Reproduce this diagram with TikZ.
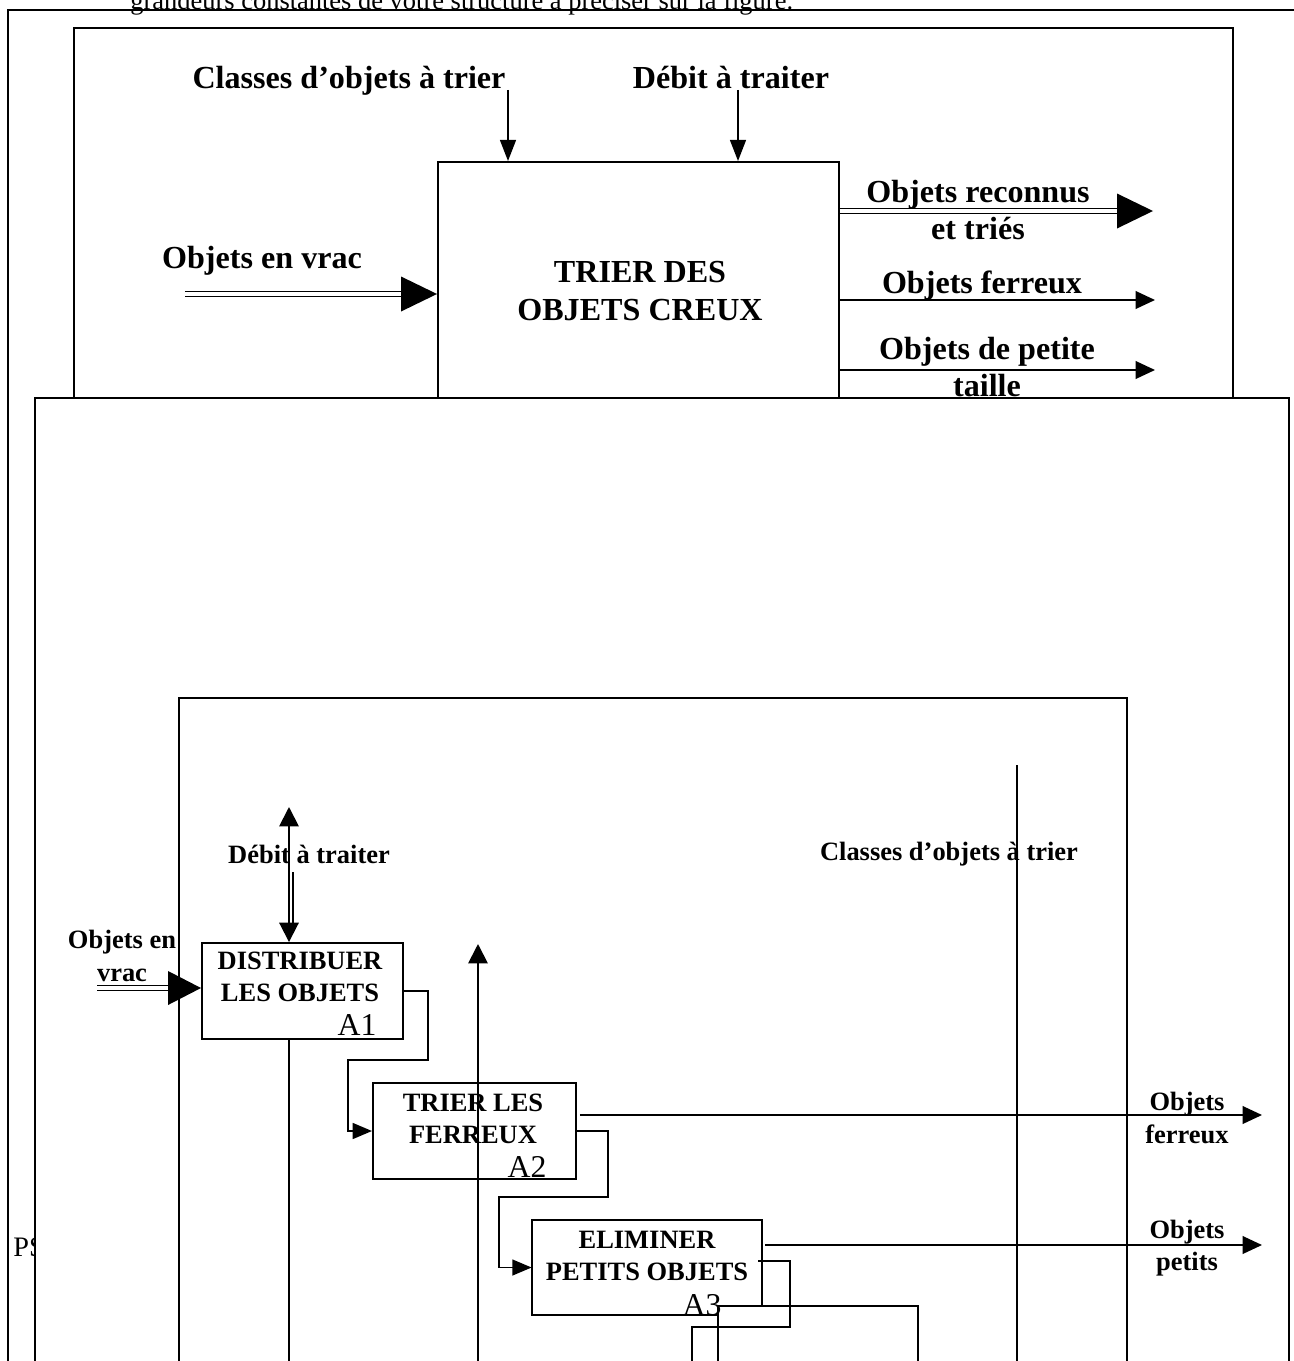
\documentclass[tikz,border=0pt]{standalone}
\usepackage{fontspec}
\setmainfont{Liberation Serif}
\usetikzlibrary{arrows.meta,fit,calc}
\begin{document}
\begin{tikzpicture}[x=0.5669pt,y=-0.5669pt,
  ln/.style={line width=1.1pt},
  bl/.style={font=\bfseries\fontsize{18.2}{21.5}\selectfont, align=center, inner sep=0pt},
  bs/.style={font=\bfseries\fontsize{15}{18.3}\selectfont, align=center, inner sep=0pt},
  rg/.style={font=\fontsize{18}{19}\selectfont, inner sep=0pt},
  fn/.style={draw, line width=1.1pt, inner sep=0pt},
  nofn/.style={inner sep=0pt},
  arr/.style={ln,-{Triangle[length=11pt,width=10pt]}},
  arrc/.style={ln,-{Triangle[length=12pt,width=9pt]}},
  arrs/.style={ln,-{Triangle[length=11pt,width=9pt]}},
  dbl/.style={double, line width=0.9pt, double distance=1.8pt}
]
\useasboundingbox (0,0) rectangle (1294,1361);

% header line of the page (cut off)
\node[font=\fontsize{15}{17}\selectfont, anchor=base west, inner sep=0pt] (hdr) at (130,10) {grandeurs constantes de votre structure à préciser sur la figure.};

% outer frame and A-0 frame
\draw[line width=1.1pt] (8,1400) -- (8,10) -- (1300,10);
\draw[line width=1.4pt] (74,28) rectangle (1233,1400);

% A-0 function box
\node[fn, fit={(438,162) (839,420)}] (a0) {};
\node[bl] (a0t) at (640,291) {TRIER DES\\OBJETS CREUX};

% controls
\node[bl, anchor=base] (cls) at (349,89) {Classes d’objets à trier};
\node[bl, anchor=base] (deb) at (731,89) {Débit à traiter};
\coordinate (c1) at (508,90);
\coordinate (c2) at (738,90);
\draw[arrc] (c1) -- (c1 |- a0.north);
\draw[arrc] (c2) -- (c2 |- a0.north);

% input
\node[bl, anchor=base] (inl) at (262,268) {Objets en vrac};
\coordinate (in0) at (185,294);
\draw[dbl] (in0) -- ($(a0.west |- in0)+(-36,0)$);
\fill (a0.west |- in0) -- ++(-36,-17.5) -- ++(0,35) -- cycle;

% outputs
\coordinate (o1) at (1153,211);
\draw[dbl] (a0.east |- o1) -- ($(o1)+(-36,0)$);
\fill (o1) -- ++(-36,-17.5) -- ++(0,35) -- cycle;
\node[bl] (o1l) at (978,210) {Objets reconnus\\et triés};

\coordinate (o2) at (1155,300);
\draw[arr] (a0.east |- o2) -- (o2);
\node[bl, anchor=base] (o2l) at (982,293) {Objets ferreux};

\coordinate (o3) at (1155,370);
\draw[arr] (a0.east |- o3) -- (o3);
\node[bl] (o3l) at (987,367) {Objets de petite\\taille};

% PS (partly hidden)
\node[font=\fontsize{16}{17}\selectfont, anchor=west, inner sep=0pt] (ps) at (13,1247) {PS};

% second frame (opaque)
\filldraw[fill=white, line width=1.1pt] (35,1400) -- (35,398) -- (1289,398) -- (1289,1400);

% third frame (A0 diagram)
\draw[ln] (179,1400) -- (179,698) -- (1127,698) -- (1127,1400);

% control line "Classes d'objets a trier"
\coordinate (cl0) at (1017,765);
\coordinate (cl1) at (1017,1400);
\draw[ln] (cl0) -- (cl1);
\node[bs, anchor=base] (cls2) at (949,860) {Classes d’objets à trier};
\node[bs, anchor=base] (deb2) at (309,863) {Débit à traiter};

% A1
\node[fn, fit={(202,943) (403,1039)}] (a1) {};
\node[bs] (a1t) at (300,977) {DISTRIBUER\\LES OBJETS};
\node[rg, anchor=base] (a1n) at (357,1035) {A1};
\coordinate (d0) at (289,807);
\draw[ln, {Triangle[length=11pt,width=11pt]}-{Triangle[length=11pt,width=11pt]}] (d0) -- (d0 |- a1.north);
\coordinate (d1) at (293,872);
\coordinate (d2) at (293,927);
\draw[ln] (d1) -- (d2);

\node[bs] (in2l) at (122,956) {Objets en\\vrac};
\coordinate (in2) at (97,988);
\draw[dbl] (in2) -- ($(a1.west |- in2)+(-33,0)$);
\fill (a1.west |- in2) -- ++(-33,-17) -- ++(0,34) -- cycle;

\coordinate (v1) at (289,1400);
\draw[ln] (a1.south -| v1) -- (v1);

% A2
\node[fn, fit={(373,1083) (576,1179)}] (a2) {};
\node[bs] (a2t) at (473,1119) {TRIER LES\\FERREUX};
\node[rg, anchor=base] (a2n) at (527,1177) {A2};
\draw[arrs] (a1.east) -| (428,1060) -| ($(a2.west)+(-24,0)$) -- (a2.west);

\coordinate (v2t) at (478,944);
\coordinate (v2b) at (478,1400);
\draw[ln, {Triangle[length=11pt,width=11pt]}-] (v2t) -- (v2b);

\coordinate (o4) at (1262,1115);
\draw[arr] ($(a2.east |- o4)+(3,0)$) -- (o4);
\node[bs] (o4l) at (1187,1118) {Objets\\ferreux};

% A3
\node[nofn, fit={(532,1220) (762,1315)}] (a3) {};
\coordinate (k1) at (718,1306);
\coordinate (k2) at (918,1306);
\coordinate (k3) at (718,1400);
\coordinate (k4) at (918,1400);
\draw[ln] (a3.south -| k1) -| (a3.north west) -| (a3.east |- k1);
\node[bs] (a3t) at (647,1256) {ELIMINER\\PETITS OBJETS};
\node[rg, anchor=base] (a3n) at (702,1315) {A3};
\draw[arrs] (a2.east) -| (608,1197) -| ($(a3.west)+(-33,0)$) -- (a3.west);
\draw[ln] (k3) -- (k1) -- (k2) -- (k4);

\coordinate (o5) at (1262,1245);
\draw[arr] ($(a3.east |- o5)+(3,0)$) -- (o5);
\node[bs] (o5l) at (1187,1248) {Objets\\petits};

\coordinate (m0) at (758,1261);
\draw[ln] (m0) -| (790,1327) -| (692,1400);
\end{tikzpicture}
\end{document}
